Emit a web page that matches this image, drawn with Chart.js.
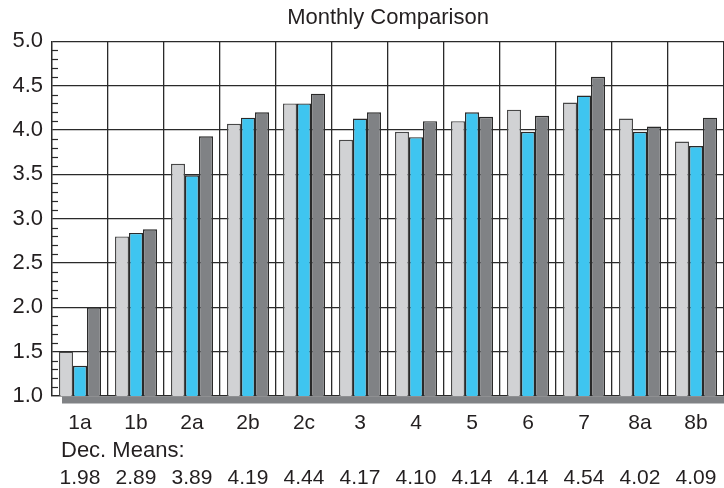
<!DOCTYPE html>
<html>
<head>
<meta charset="utf-8">
<script src="https://cdn.jsdelivr.net/npm/chart.js@4/dist/chart.umd.min.js"></script>
<style>
  html, body { margin: 0; padding: 0; background: #ffffff; }
  #wrap { width: 724px; height: 488px; }
</style>
</head>
<body>
<div id="wrap"><canvas id="c" width="724" height="488"></canvas></div>
<script>
const categories = ['1a', '1b', '2a', '2b', '2c', '3', '4', '5', '6', '7', '8a', '8b'];
const seriesLight = [1.50, 2.80, 3.62, 4.07, 4.30, 3.89, 3.98, 4.10, 4.23, 4.31, 4.13, 3.87];
const seriesBlue  = [1.34, 2.84, 3.49, 4.14, 4.30, 4.13, 3.92, 4.20, 3.98, 4.39, 3.98, 3.82];
const seriesDark  = [2.00, 2.88, 3.93, 4.20, 4.41, 4.20, 4.10, 4.15, 4.16, 4.60, 4.04, 4.14];
const decMeans = ['1.98', '2.89', '3.89', '4.19', '4.44', '4.17', '4.10', '4.14', '4.14', '4.54', '4.02', '4.09'];
const yTicks = [1.0, 1.5, 2.0, 2.5, 3.0, 3.5, 4.0, 4.5, 5.0];
const meansLabel = 'Dec. Means:';

const FONT = "'Liberation Sans', Arial, Helvetica, sans-serif";
const TEXT = '#231f20';
const GRID = '#2a2a2a';

const extras = {
  id: 'extras',
  beforeDatasetsDraw(chart) {
    const { ctx, chartArea: a, scales: { y } } = chart;
    ctx.save();
    ctx.strokeStyle = GRID;
    ctx.lineWidth = 1.2;
    for (let i = 11; i < 50; i++) {
      if (i % 5 === 0) continue;
      const py = Math.round(y.getPixelForValue(i / 10)) + 0.5;
      ctx.beginPath();
      ctx.moveTo(a.left, py);
      ctx.lineTo(a.left + 6, py);
      ctx.stroke();
    }
    ctx.restore();
  },
  afterDraw(chart) {
    const { ctx, chartArea: a } = chart;
    ctx.save();
    ctx.fillStyle = '#808285';
    ctx.fillRect(a.left + 10, a.bottom + 0.5, a.right - a.left - 10, 7);
    ctx.fillStyle = TEXT;
    ctx.font = '22px ' + FONT;
    ctx.textAlign = 'left';
    ctx.textBaseline = 'middle';
    ctx.fillText(meansLabel, a.left + 9, a.bottom + 55);
    ctx.restore();
  }
};

const ds = (label, data, color, border) => ({
  label, data,
  backgroundColor: color,
  borderColor: border,
  borderWidth: 1.4,
  borderSkipped: 'start',
  categoryPercentage: 0.75,
  barPercentage: 1.0
});

new Chart(document.getElementById('c'), {
  type: 'bar',
  data: {
    labels: categories,
    datasets: [
      ds('A', seriesLight, '#d1d2d4', '#484848'),
      ds('B', seriesBlue, '#3fc5f0', '#2a2a2a'),
      ds('C', seriesDark, '#808285', '#2a2a2a')
    ]
  },
  options: {
    responsive: false,
    animation: false,
    devicePixelRatio: 1,
    layout: { padding: 0 },
    plugins: {
      legend: { display: false },
      tooltip: { enabled: false },
      title: {
        display: true,
        text: 'Monthly Comparison',
        fullSize: false,
        color: TEXT,
        font: { family: FONT, size: 22, weight: 'normal' },
        padding: { top: 5, bottom: 10 }
      }
    },
    scales: {
      x: {
        offset: true,
        grid: {
          offset: true,
          color: (c) => (c.index === categories.length ? 'rgba(0,0,0,0)' : GRID),
          lineWidth: 1.3,
          drawTicks: false
        },
        border: { color: GRID, width: 1.3 },
        ticks: {
          color: TEXT,
          font: { family: FONT, size: 21, lineHeight: 1.31 },
          padding: 13,
          maxRotation: 0,
          autoSkip: false,
          callback: (v, i) => [categories[i], '', decMeans[i]]
        },
        afterFit: (s) => { s.height = 92; s.paddingLeft = 0; s.paddingRight = 0; }
      },
      y: {
        min: 1,
        max: 5,
        afterBuildTicks: (s) => { s.ticks = yTicks.map(v => ({ value: v })); },
        grid: { color: GRID, lineWidth: 1.3, drawTicks: false },
        border: { color: GRID, width: 1.3 },
        ticks: {
          color: TEXT,
          font: { family: FONT, size: 22 },
          padding: 9,
          callback: (v) => Number(v).toFixed(1)
        },
        afterFit: (s) => { s.width = 52; s.paddingTop = 0; s.paddingBottom = 0; }
      }
    }
  },
  plugins: [extras]
});
</script>
</body>
</html>
